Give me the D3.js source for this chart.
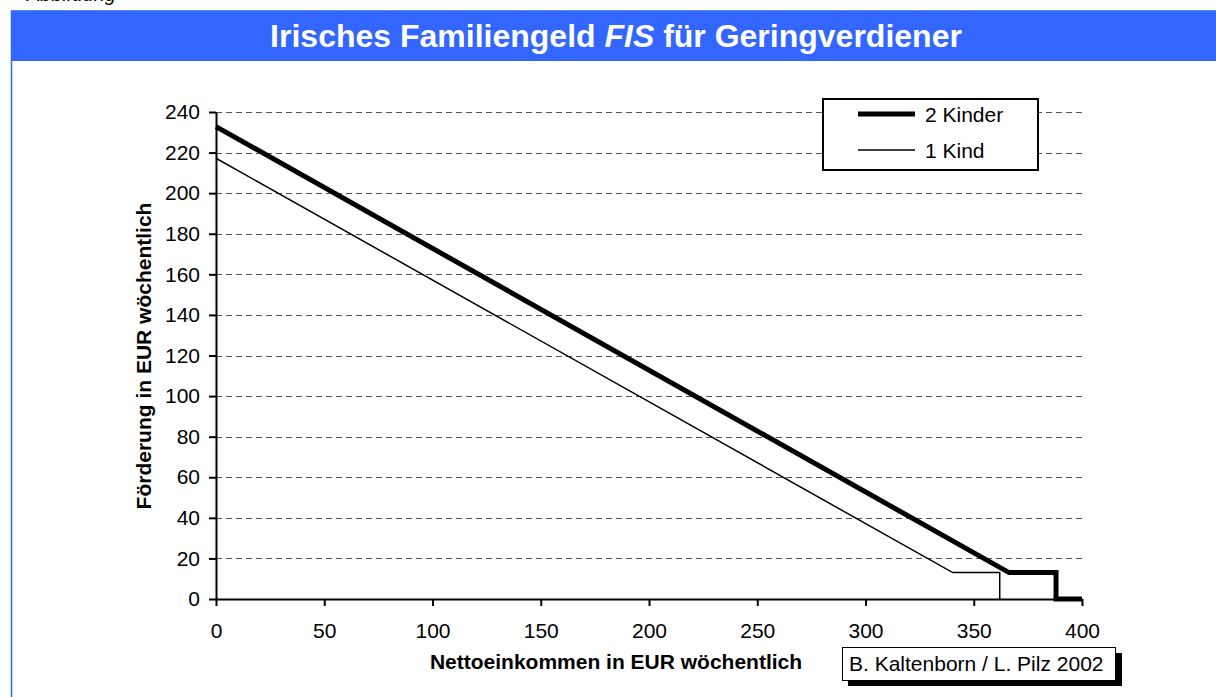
<!DOCTYPE html>
<html>
<head>
<meta charset="utf-8">
<script src="https://cdn.jsdelivr.net/npm/d3@7"></script>
<style>
  body { margin: 0; background: #fff; }
  svg { display: block; font-family: "Liberation Sans", Arial, sans-serif; }
</style>
</head>
<body>
<div id="chart"></div>
<script>
// Förderung (EUR/Woche) über Nettoeinkommen (EUR/Woche)
const kinder2 = [[0, 232.8], [366.3, 13], [388, 13], [388, 0], [400, 0]];
const kind1 = [[0, 217.2], [340.3, 13], [362, 13], [362, 0]];
const seriesNames = ["2 Kinder", "1 Kind"];
const xTicks = [0, 50, 100, 150, 200, 250, 300, 350, 400];
const yTicks = [0, 20, 40, 60, 80, 100, 120, 140, 160, 180, 200, 220, 240];

const W = 1216, H = 697;
const margin = {top: 112, right: 134, bottom: 98, left: 216};
const width = W - margin.left - margin.right;
const height = H - margin.top - margin.bottom;

const svg = d3.select("#chart").append("svg")
    .attr("width", W).attr("height", H);

// caption above the frame (cut off at top, as in the original)
svg.append("text")
    .attr("x", 27).attr("y", 1)
    .style("font-size", "20px").style("font-style", "italic")
    .text("Abbildung");

// frame + header
svg.append("line")
    .attr("x1", 11.5).attr("x2", 11.5).attr("y1", 10).attr("y2", H)
    .attr("stroke", "#3366ff").attr("stroke-width", 1.5);
svg.append("rect")
    .attr("x", 11).attr("y", 10).attr("width", W - 11).attr("height", 51)
    .attr("fill", "#3366ff");
svg.append("line")
    .attr("x1", 11).attr("x2", W).attr("y1", 10.5).attr("y2", 10.5)
    .attr("stroke", "#5b85ff").attr("stroke-width", 1);

const title = svg.append("text")
    .attr("x", 616).attr("y", 47)
    .attr("text-anchor", "middle")
    .attr("fill", "#fff")
    .style("font-size", "32px").style("font-weight", "bold");
title.append("tspan").text("Irisches Familiengeld ");
title.append("tspan").style("font-style", "italic").text("FIS");
title.append("tspan").text(" für Geringverdiener");

const g = svg.append("g").attr("transform", `translate(${margin.left},${margin.top})`);

const x = d3.scaleLinear().domain([0, 400]).range([0, width]);
const y = d3.scaleLinear().domain([0, 240]).range([height, 0]);

// grid
g.selectAll(".grid")
    .data(yTicks.filter(d => d > 0))
    .join("line")
    .attr("class", "grid")
    .attr("x1", 0).attr("x2", width)
    .attr("y1", d => Math.round(y(d)) + 0.5).attr("y2", d => Math.round(y(d)) + 0.5)
    .attr("stroke", "#555").attr("stroke-width", 1)
    .attr("stroke-dasharray", "6,4");

// lines
const line = d3.line().x(d => x(d[0])).y(d => y(d[1]));
g.append("path").datum(kind1).attr("d", line)
    .attr("fill", "none").attr("stroke", "#000").attr("stroke-width", 1.5);
g.append("path").datum(kinder2).attr("d", line)
    .attr("fill", "none").attr("stroke", "#000").attr("stroke-width", 5)
    .attr("stroke-linejoin", "miter");

// axes
const xAxis = g.append("g")
    .attr("transform", `translate(0,${height})`)
    .call(d3.axisBottom(x).tickValues(xTicks).tickSize(7).tickSizeOuter(0).tickPadding(17));
const yAxis = g.append("g")
    .call(d3.axisLeft(y).tickValues(yTicks).tickSize(7).tickSizeOuter(0).tickPadding(9));
[xAxis, yAxis].forEach(a => {
    a.selectAll("path, line").attr("stroke", "#000").attr("stroke-width", 2);
    a.selectAll("text").attr("fill", "#000").style("font-size", "21px")
        .style("font-family", "'Liberation Sans', Arial, sans-serif");
});

// axis titles
svg.append("text")
    .attr("x", 616).attr("y", 669)
    .attr("text-anchor", "middle")
    .style("font-size", "21px").style("font-weight", "bold")
    .text("Nettoeinkommen in EUR wöchentlich");
svg.append("text")
    .attr("transform", "translate(151,356) rotate(-90)")
    .attr("text-anchor", "middle")
    .style("font-size", "21px").style("font-weight", "bold")
    .text("Förderung in EUR wöchentlich");

// legend
const leg = svg.append("g").attr("transform", "translate(823,99)");
leg.append("rect").attr("width", 215).attr("height", 71)
    .attr("fill", "#fff").attr("stroke", "#000").attr("stroke-width", 2);
seriesNames.forEach((name, i) => {
    const yy = 15 + i * 36;
    leg.append("line")
        .attr("x1", 35).attr("x2", 92).attr("y1", yy).attr("y2", yy)
        .attr("stroke", "#000").attr("stroke-width", i === 0 ? 5 : 1.5);
    leg.append("text")
        .attr("x", 102).attr("y", yy + 8)
        .style("font-size", "21px")
        .text(name);
});

// credit box with shadow
svg.append("rect").attr("x", 848).attr("y", 653).attr("width", 274).attr("height", 33).attr("fill", "#000");
svg.append("rect").attr("x", 842.5).attr("y", 647.5).attr("width", 273).attr("height", 33)
    .attr("fill", "#fff").attr("stroke", "#000").attr("stroke-width", 1);
svg.append("text")
    .attr("x", 849).attr("y", 671)
    .style("font-size", "21px")
    .text("B. Kaltenborn / L. Pilz 2002");
</script>
</body>
</html>
